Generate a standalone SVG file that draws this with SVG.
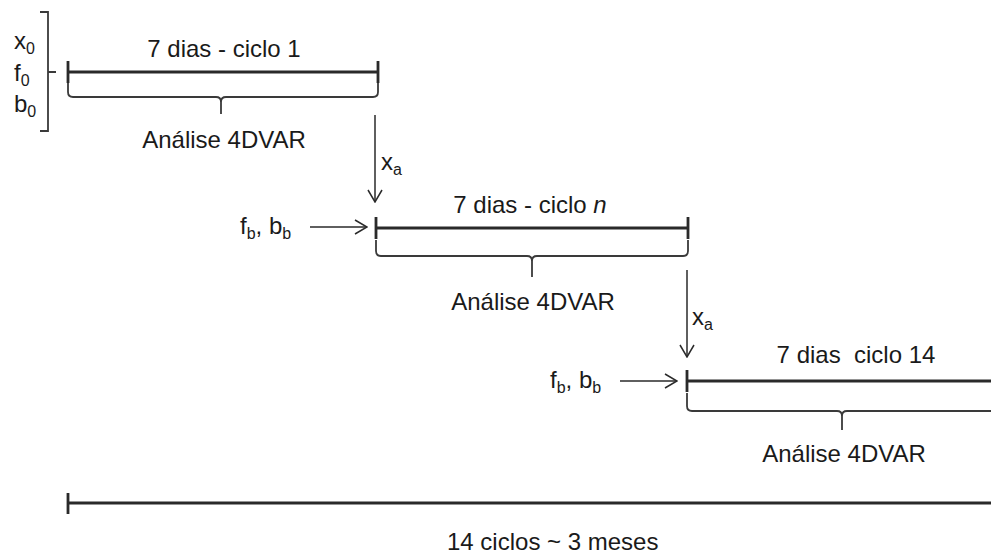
<svg xmlns="http://www.w3.org/2000/svg" width="991" height="556" viewBox="0 0 991 556">
<style>
text{font-family:"Liberation Sans",Arial,sans-serif;font-size:24px;fill:#1a1a1a;white-space:pre}
.sub{font-size:16px}
.tl{stroke:#2a2a2a;stroke-width:2.8;fill:none}
.br{stroke:#3a3a3a;stroke-width:1.8;fill:none}
.ar{stroke:#2a2a2a;stroke-width:1.5;fill:none}
.mid{text-anchor:middle}
</style>
<defs>
<marker id="ah" viewBox="0 0 14 16" refX="13" refY="8" markerWidth="14" markerHeight="16" markerUnits="userSpaceOnUse" orient="auto">
<path d="M1 1 L13 8 L1 15" fill="none" stroke="#2a2a2a" stroke-width="1.5"/>
</marker>
</defs>
<rect width="991" height="556" fill="#fff"/>

<g id="initial">
<text x="14" y="49">x<tspan class="sub" dy="5">0</tspan></text>
<text x="14" y="81">f<tspan class="sub" dy="5">0</tspan></text>
<text x="14" y="112">b<tspan class="sub" dy="5">0</tspan></text>
<path class="br" d="M40 12 H48 V131 H40 M48 72 H56"/>
</g>

<g id="cycle1">
<path class="tl" d="M68 72 H378 M68 61 V83 M378 61 V83"/>
<path class="br" d="M68 83 V92 Q68 97 73 97 H216 Q221 97 221 102 V114 M378 83 V92 Q378 97 373 97 H226 Q221 97 221 102"/>
<text class="mid" x="224" y="57">7 dias - ciclo 1</text>
<text class="mid" x="224" y="148">Análise 4DVAR</text>
</g>

<g id="cyclen">
<path class="tl" d="M376 228 H688 M376 217 V239 M688 217 V239"/>
<path class="br" d="M376 240 V251 Q376 256 381 256 H527 Q532 256 532 261 V277 M688 240 V251 Q688 256 683 256 H537 Q532 256 532 261"/>
<text class="mid" x="530" y="213">7 dias - ciclo <tspan font-style="italic">n</tspan></text>
<text class="mid" x="533" y="310">Análise 4DVAR</text>
<text x="240" y="234">f<tspan class="sub" dy="5">b</tspan><tspan dy="-5">, b</tspan><tspan class="sub" dy="5">b</tspan></text>
</g>

<g id="cycle14">
<path class="tl" d="M687 381 H995 M687 370 V392"/>
<path class="br" d="M687 393 V406 Q687 411 692 411 H837 Q842 411 842 416 V430 M1000 393 V406 Q1000 411 995 411 H847 Q842 411 842 416"/>
<text class="mid" x="856" y="363">7 dias  ciclo 14</text>
<text class="mid" x="844" y="462">Análise 4DVAR</text>
<text x="550" y="388">f<tspan class="sub" dy="5">b</tspan><tspan dy="-5">, b</tspan><tspan class="sub" dy="5">b</tspan></text>
</g>

<g id="total">
<path class="tl" d="M68 503 H995 M68 493 V514"/>
<text x="447" y="550">14 ciclos ~ 3 meses</text>
</g>

<g id="connectors">
<path class="ar" d="M375 115 V202" marker-end="url(#ah)"/>
<text x="381" y="170">x<tspan class="sub" dy="5">a</tspan></text>
<path class="ar" d="M687 270 V357" marker-end="url(#ah)"/>
<text x="692" y="325">x<tspan class="sub" dy="5">a</tspan></text>
<path class="ar" d="M310 227 H367" marker-end="url(#ah)"/>
<path class="ar" d="M620 381 H677" marker-end="url(#ah)"/>
</g>
</svg>
